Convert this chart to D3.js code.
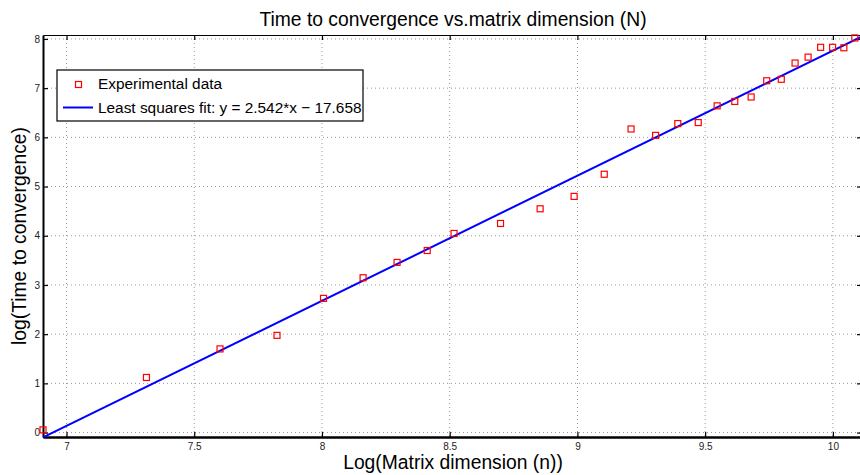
<!DOCTYPE html>
<html><head><meta charset="utf-8">
<script src="https://cdn.jsdelivr.net/npm/d3@7"></script>
<style>body{margin:0;background:#fff;overflow:hidden}svg{display:block;font-family:"Liberation Sans",Arial,sans-serif}</style>
</head><body><svg id="c" width="860" height="475"></svg>
<script>
const xData = [6.908,7.313,7.601,7.824,8.006,8.161,8.294,8.412,8.517,8.699,8.854,8.987,9.105,9.210,9.306,9.393,9.473,9.547,9.616,9.680,9.741,9.798,9.852,9.903,9.952,9.999,10.043,10.086];
const yData = [0.055,1.12,1.70,1.976,2.727,3.147,3.458,3.70,4.047,4.25,4.548,4.80,5.25,6.17,6.04,6.28,6.30,6.64,6.73,6.82,7.15,7.18,7.51,7.63,7.83,7.83,7.82,8.02];
const fitSlope = 2.542, fitIntercept = -17.658;
const xTicks = [7,7.5,8,8.5,9,9.5,10];
const yTicks = [0,1,2,3,4,5,6,7,8];
const xDomain = [6.908,10.114];
const yDomain = [-0.09,8.08];

const svg = d3.select("#c");
const L=43,R=862,T=35,B=437;
const x = d3.scaleLinear().domain(xDomain).range([L,R]);
const y = d3.scaleLinear().domain(yDomain).range([B,T]);

// grid
const g = svg.append("g");
g.selectAll(".gx").data(xTicks).join("line").attr("x1",d=>x(d)).attr("x2",d=>x(d)).attr("y1",T).attr("y2",B)
 .attr("stroke","#999").attr("stroke-width",1).attr("stroke-dasharray","1,3");
g.selectAll(".gy").data(yTicks).join("line").attr("y1",d=>y(d)).attr("y2",d=>y(d)).attr("x1",L).attr("x2",R)
 .attr("stroke","#999").attr("stroke-width",1).attr("stroke-dasharray","1,3");

// axes
const xa = svg.append("g").attr("transform",`translate(0,${B})`)
 .call(d3.axisBottom(x).tickValues(xTicks).tickSizeInner(-5).tickSizeOuter(0).tickPadding(6).tickFormat(d3.format("")));
const ya = svg.append("g").attr("transform",`translate(${L},0)`)
 .call(d3.axisLeft(y).tickValues(yTicks).tickSizeInner(-5).tickSizeOuter(0).tickPadding(3).tickFormat(d3.format("")));
svg.append("g").attr("transform",`translate(0,${T})`)
 .call(d3.axisTop(x).tickValues(xTicks).tickSizeInner(-5).tickSizeOuter(0).tickFormat(""));
svg.append("g").attr("transform",`translate(${R},0)`)
 .call(d3.axisRight(y).tickValues(yTicks).tickSizeInner(-5).tickSizeOuter(0).tickFormat(""));
svg.selectAll(".domain").attr("stroke","#000").attr("stroke-width",1.2);
xa.select(".domain").attr("stroke-width",2.5);
ya.select(".domain").attr("stroke-width",2);
svg.selectAll(".tick line").attr("stroke","#000").attr("stroke-width",1.2);
svg.selectAll(".tick text").attr("font-size","10px").attr("fill","#222").attr("font-family","Liberation Sans, Arial, sans-serif");

// fit line
svg.append("line").attr("x1",x(xDomain[0])).attr("y1",y(fitSlope*xDomain[0]+fitIntercept))
 .attr("x2",x(xDomain[1])).attr("y2",y(fitSlope*xDomain[1]+fitIntercept))
 .attr("stroke","#0000ff").attr("stroke-width",2);

// points
svg.selectAll(".pt").data(xData.map((v,i)=>[v,yData[i]])).join("rect")
 .attr("x",d=>x(d[0])-3).attr("y",d=>y(d[1])-3).attr("width",6).attr("height",6)
 .attr("fill","none").attr("stroke","#ff0000").attr("stroke-width",1.2);

// title & labels
svg.append("text").attr("x",453).attr("y",26).attr("text-anchor","middle").attr("font-size","19.3px")
 .text("Time to convergence vs.matrix dimension (N)");
svg.append("text").attr("x",453).attr("y",469).attr("text-anchor","middle").attr("font-size","19.3px")
 .text("Log(Matrix dimension (n))");
svg.append("text").attr("transform",`translate(26,${(T+B)/2}) rotate(-90)`).attr("text-anchor","middle").attr("font-size","19.3px")
 .text("log(Time to convergence)");

// legend
const lg = svg.append("g");
lg.append("rect").attr("x",57).attr("y",70).attr("width",306).attr("height",51).attr("fill","#fff").attr("stroke","#000").attr("stroke-width",1.2);
lg.append("rect").attr("x",75.5).attr("y",81.5).attr("width",6).attr("height",6).attr("fill","none").attr("stroke","#ff0000").attr("stroke-width",1.2);
lg.append("text").attr("x",98).attr("y",89).attr("font-size","15.4px").text("Experimental data");
lg.append("line").attr("x1",63).attr("x2",93).attr("y1",107.5).attr("y2",107.5).attr("stroke","#0000ff").attr("stroke-width",2);
lg.append("text").attr("x",98).attr("y",113).attr("font-size","15.4px").text("Least squares fit: y = 2.542*x \u2212 17.658");
</script></body></html>
